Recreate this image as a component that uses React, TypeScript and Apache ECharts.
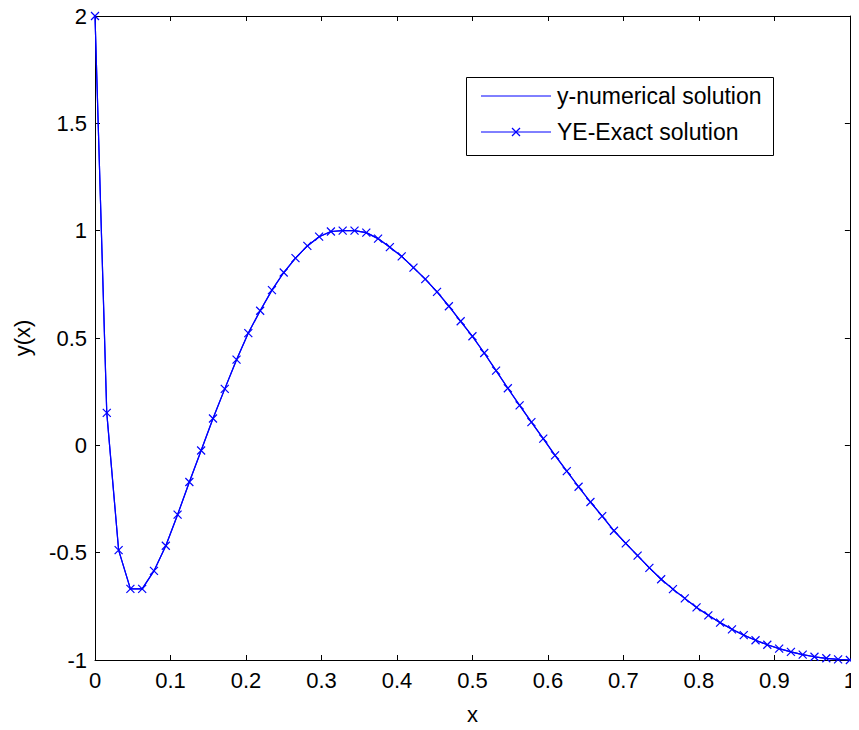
import React, { useEffect, useRef } from "react";
import * as echarts from "echarts";

const xValues = [
  0, 0.0156, 0.0313, 0.0469, 0.0625, 0.0781, 0.0938, 0.1094, 0.125, 0.1406, 0.1563, 0.1719, 0.1875,
  0.2031, 0.2188, 0.2344, 0.25, 0.2656, 0.2813, 0.2969, 0.3125, 0.3281, 0.3438, 0.3594, 0.375,
  0.3906, 0.4063, 0.4219, 0.4375, 0.4531, 0.4688, 0.4844, 0.5, 0.5156, 0.5313, 0.5469, 0.5625,
  0.5781, 0.5938, 0.6094, 0.625, 0.6406, 0.6563, 0.6719, 0.6875, 0.7031, 0.7188, 0.7344, 0.75,
  0.7656, 0.7813, 0.7969, 0.8125, 0.8281, 0.8438, 0.8594, 0.875, 0.8906, 0.9063, 0.9219, 0.9375,
  0.9531, 0.9688, 0.9844, 1,
];

const exactY = [
  2.0, 0.151, -0.488, -0.669, -0.669, -0.585, -0.468, -0.323, -0.171, -0.024, 0.125, 0.263, 0.399,
  0.523, 0.627, 0.723, 0.805, 0.872, 0.929, 0.972, 0.996, 1.0, 1.0, 0.991, 0.963,
  0.923, 0.88, 0.828, 0.774, 0.715, 0.648, 0.578, 0.508, 0.43, 0.348, 0.266, 0.186,
  0.108, 0.031, -0.047, -0.12, -0.193, -0.264, -0.33, -0.398, -0.457, -0.514, -0.571, -0.624,
  -0.67, -0.713, -0.755, -0.792, -0.826, -0.857, -0.884, -0.908, -0.929, -0.947, -0.962, -0.975,
  -0.985, -0.992, -0.997, -1.0,
];

const numericalY = [
  2.0, 0.151, -0.488, -0.669, -0.669, -0.585, -0.468, -0.323, -0.171, -0.024, 0.125, 0.263, 0.399,
  0.523, 0.627, 0.723, 0.805, 0.872, 0.929, 0.972, 0.996, 1.0, 1.0, 0.991, 0.963,
  0.923, 0.88, 0.828, 0.774, 0.715, 0.648, 0.578, 0.508, 0.43, 0.348, 0.266, 0.186,
  0.108, 0.031, -0.047, -0.12, -0.193, -0.264, -0.33, -0.398, -0.457, -0.514, -0.571, -0.624,
  -0.67, -0.713, -0.755, -0.792, -0.826, -0.857, -0.884, -0.908, -0.929, -0.947, -0.962, -0.975,
  -0.985, -0.992, -0.997, -1.0,
];

const seriesNames = ["y-numerical solution", "YE-Exact solution"];
const xAxisName = "x";
const yAxisName = "y(x)";

const FONT = "'Liberation Sans', Arial, Helvetica, sans-serif";
const BLUE = "#0000ff";
const X_SYMBOL = "path://M0,0L10,10M10,0L0,10";

const fmt = (v: number) => String(parseFloat(v.toFixed(2)));

export default function App() {
  const ref = useRef<HTMLDivElement>(null);

  useEffect(() => {
    if (!ref.current) return;
    const chart = echarts.init(ref.current, undefined, { renderer: "svg" });
    const numData = xValues.map((x, i) => [x, numericalY[i]]);
    const exData = xValues.map((x, i) => [x, exactY[i]]);

    const axisLine = { show: true, onZero: false, lineStyle: { color: "#000", width: 1 } };
    const axisTick = { show: true, inside: true, length: 5, lineStyle: { color: "#000", width: 1 } };
    const labelStyle = { color: "#000", fontSize: 22, fontFamily: FONT };

    // manual legend box (MATLAB style)
    const lgX = 466, lgY = 77, lgW = 307, lgH = 78;
    const rowY = [96, 132];
    const lineX1 = 481, lineX2 = 551, textX = 557;
    const legendGraphic: any[] = [
      {
        type: "rect",
        shape: { x: lgX + 0.5, y: lgY + 0.5, width: lgW, height: lgH },
        style: { fill: "#fff", stroke: "#000", lineWidth: 1 },
        z: 100,
      },
    ];
    seriesNames.forEach((name, i) => {
      legendGraphic.push({
        type: "line",
        shape: { x1: lineX1, y1: rowY[i], x2: lineX2, y2: rowY[i] },
        style: { stroke: BLUE, lineWidth: 1 },
        z: 101,
      });
      legendGraphic.push({
        type: "text",
        x: textX,
        y: rowY[i],
        style: {
          text: name,
          fill: "#000",
          font: `23px ${FONT}`,
          verticalAlign: "middle",
          align: "left",
        },
        z: 101,
      });
    });
    const mx = (lineX1 + lineX2) / 2, my = rowY[1], r = 4;
    legendGraphic.push(
      { type: "line", shape: { x1: mx - r, y1: my - r, x2: mx + r, y2: my + r }, style: { stroke: BLUE, lineWidth: 1.2 }, z: 101 },
      { type: "line", shape: { x1: mx - r, y1: my + r, x2: mx + r, y2: my - r }, style: { stroke: BLUE, lineWidth: 1.2 }, z: 101 }
    );

    chart.setOption({
      animation: false,
      backgroundColor: "#fff",
      grid: { left: 95, top: 16, right: 3, bottom: 68, containLabel: false },
      graphic: legendGraphic,
      xAxis: [
        {
          type: "value",
          min: 0,
          max: 1,
          interval: 0.1,
          position: "bottom",
          name: xAxisName,
          nameLocation: "middle",
          nameGap: 43,
          nameTextStyle: labelStyle,
          axisLine,
          axisTick,
          splitLine: { show: false },
          axisLabel: { ...labelStyle, margin: 9, formatter: fmt },
        },
        {
          type: "value",
          min: 0,
          max: 1,
          interval: 0.1,
          position: "top",
          axisLine,
          axisTick,
          splitLine: { show: false },
          axisLabel: { show: false },
        },
      ],
      yAxis: [
        {
          type: "value",
          min: -1,
          max: 2,
          interval: 0.5,
          position: "left",
          name: yAxisName,
          nameLocation: "middle",
          nameGap: 62,
          nameTextStyle: labelStyle,
          axisLine,
          axisTick,
          splitLine: { show: false },
          axisLabel: { ...labelStyle, margin: 8, formatter: fmt },
        },
        {
          type: "value",
          min: -1,
          max: 2,
          interval: 0.5,
          position: "right",
          axisLine,
          axisTick,
          splitLine: { show: false },
          axisLabel: { show: false },
        },
      ],
      series: [
        {
          name: seriesNames[0],
          type: "line",
          data: numData,
          symbol: "none",
          lineStyle: { color: BLUE, width: 1.2 },
          itemStyle: { color: BLUE },
        },
        {
          name: seriesNames[1],
          type: "line",
          data: exData,
          symbol: X_SYMBOL,
          symbolSize: 8,
          showSymbol: true,
          showAllSymbol: true,
          lineStyle: { color: BLUE, width: 1.2 },
          itemStyle: { color: BLUE, borderColor: BLUE, borderWidth: 1.2 },
        },
      ],
    });
    return () => chart.dispose();
  }, []);

  return <div ref={ref} style={{ width: 859, height: 730, margin: -8 }} />;
}
